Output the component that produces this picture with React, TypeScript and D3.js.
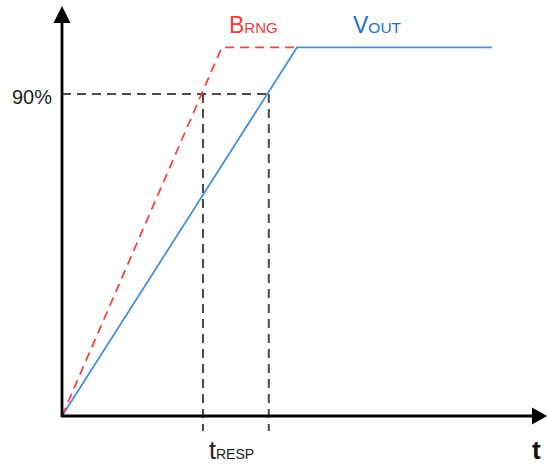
import React from "react";
import * as d3 from "d3";

// Data (arbitrary time units, % of final value)
const vout: [number, number][] = [[0, 0], [50, 103], [91.5, 103]];
const brng: [number, number][] = [[0, 0], [34, 103], [50, 103]];
const levelPct = 90;
const levelLabel = "90%";
const tMarks = [30, 44];

const W = 548, H = 464;
const x0 = 62, y0 = 416;

export default function App() {
  const x = d3.scaleLinear().domain([0, 100]).range([x0, 532]);
  const y = d3.scaleLinear().domain([0, 100]).range([y0, y0 - 357.8]);
  const line = d3.line<[number, number]>().x(d => x(d[0])).y(d => y(d[1]));
  const yl = y(levelPct);
  const font = "'Liberation Sans', Arial, sans-serif";
  return (
    <svg width={W} height={H} style={{ position: "absolute", left: 0, top: 0 }} fontFamily={font}>
      <rect width={W} height={H} fill="#fff" />
      {/* reference dashed lines */}
      <line x1={x0} x2={x(tMarks[1])} y1={yl} y2={yl} stroke="#4a4a4a" strokeWidth={2} strokeDasharray="9 6" />
      {tMarks.map((t, i) => (
        <line key={i} x1={x(t)} x2={x(t)} y1={yl} y2={431} stroke="#4a4a4a" strokeWidth={2} strokeDasharray="9 6" />
      ))}
      {/* series */}
      <path d={line(vout) || ""} fill="none" stroke="#4a90d9" strokeWidth={1.8} />
      <path d={line(brng) || ""} fill="none" stroke="#ff4040" strokeWidth={1.8} strokeDasharray="9 6" />
      {/* axes */}
      <line x1={x0} x2={x0} y1={y0 + 1} y2={22} stroke="#000" strokeWidth={2.8} />
      <polygon points={`${x0},6 ${x0 - 8.5},23 ${x0 + 8.5},23`} fill="#000" />
      <line x1={x0 - 1} x2={533} y1={y0} y2={y0} stroke="#000" strokeWidth={2.8} />
      <polygon points={`547,${y0} 532,${y0 - 8.5} 532,${y0 + 8.5}`} fill="#000" />
      {/* labels */}
      <text x={52} y={104} fontSize={21} textAnchor="end" fill="#222" textLength={40} lengthAdjust="spacingAndGlyphs">{levelLabel}</text>
      <text x={229} y={33} fill="#f23c3c">
        <tspan fontSize={23}>B</tspan>
        <tspan fontSize={15}>RNG</tspan>
      </text>
      <text x={353} y={33} fill="#1f72c4">
        <tspan fontSize={23}>V</tspan>
        <tspan fontSize={15.5}>OUT</tspan>
      </text>
      <text x={209} y={459} fill="#222">
        <tspan fontSize={25}>t</tspan>
        <tspan fontSize={14}>RESP</tspan>
      </text>
      <text x={532} y={459} fontSize={26} fontWeight="bold" fill="#111">t</text>
    </svg>
  );
}
